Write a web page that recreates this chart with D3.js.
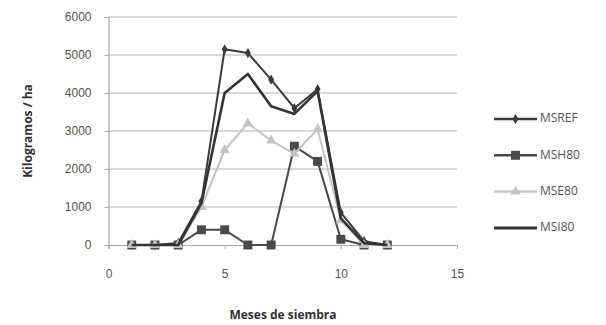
<!DOCTYPE html>
<html>
<head>
<meta charset="utf-8">
<script src="https://cdn.jsdelivr.net/npm/d3@7"></script>
<style>
  body { margin: 0; background: #fff; }
  svg { display: block; font-family: "Open Sans", "Liberation Sans", sans-serif; }
</style>
</head>
<body>
<svg id="chart" width="606" height="325"></svg>
<script>
// data
const months = [1, 2, 3, 4, 5, 6, 7, 8, 9, 10, 11, 12];
const msref = [0, 0, 50, 1150, 5150, 5050, 4350, 3600, 4100, 850, 100, 0];
const msh80 = [0, 0, 0, 400, 400, 0, 0, 2600, 2200, 150, 0, 0];
const mse80 = [0, 0, 0, 1000, 2500, 3200, 2750, 2400, 3050, 650, 0, 0];
const msi80 = [0, 0, 0, 1100, 4000, 4500, 3650, 3450, 4050, 700, 50, 0];
const xTicks = [0, 5, 10, 15];
const yTicks = [0, 1000, 2000, 3000, 4000, 5000, 6000];

const series = [
    { name: 'MSREF', values: msref, color: '#3a3a3a', width: 2, marker: 'diamond' },
    { name: 'MSH80', values: msh80, color: '#4a4a4a', width: 2, marker: 'square' },
    { name: 'MSE80', values: mse80, color: '#c4c4c4', width: 2, marker: 'triangle' },
    { name: 'MSI80', values: msi80, color: '#333333', width: 2.6, marker: null }
];

const svg = d3.select('#chart');
const x = d3.scaleLinear().domain([0, 15]).range([108.5, 457]);
const y = d3.scaleLinear().domain([0, 6000]).range([245, 17]);

// gridlines
svg.append('g')
    .selectAll('line')
    .data(yTicks.filter(d => d > 0))
    .enter()
    .append('line')
    .attr('x1', x(0))
    .attr('x2', x(15))
    .attr('y1', d => y(d))
    .attr('y2', d => y(d))
    .attr('stroke', '#b4b4b4')
    .attr('stroke-width', 1.2);

// axes
const yAxis = svg.append('g')
    .attr('transform', `translate(${x(0)},0)`)
    .call(d3.axisLeft(y).tickValues(yTicks).tickFormat(d3.format('d')).tickSize(4).tickPadding(13));
const xAxis = svg.append('g')
    .attr('transform', `translate(0,${y(0)})`)
    .call(d3.axisBottom(x).tickValues(xTicks).tickFormat(d3.format('d')).tickSize(4).tickPadding(20));
[xAxis, yAxis].forEach(a => {
    a.select('.domain').attr('stroke', '#a8a8a8').attr('stroke-width', 1.2);
    a.selectAll('.tick line').attr('stroke', '#a8a8a8');
    a.selectAll('.tick text').attr('fill', '#555').style('font-size', '12px');
});

// lines
const line = d3.line()
    .x((d, i) => x(months[i]))
    .y(d => y(d));

const symbols = { diamond: d3.symbolDiamond, square: d3.symbolSquare, triangle: d3.symbolTriangle };
const symbolSize = { diamond: 30, square: 80, triangle: 45 };

series.forEach(s => {
    svg.append('path')
        .datum(s.values)
        .attr('fill', 'none')
        .attr('stroke', s.color)
        .attr('stroke-width', s.width)
        .attr('stroke-linejoin', 'round')
        .attr('d', line);
    if (s.marker) {
        svg.append('g')
            .selectAll('path')
            .data(s.values)
            .enter()
            .append('path')
            .attr('transform', (d, i) => `translate(${x(months[i])},${y(d)})`)
            .attr('d', d3.symbol().type(symbols[s.marker]).size(symbolSize[s.marker]))
            .attr('fill', s.color);
    }
});

// legend
const legend = svg.append('g');
series.forEach((s, i) => {
    const ly = 119 + i * 36.3;
    legend.append('line')
        .attr('x1', 494).attr('x2', 537)
        .attr('y1', ly).attr('y2', ly)
        .attr('stroke', s.color)
        .attr('stroke-width', s.width + 0.4);
    if (s.marker) {
        legend.append('path')
            .attr('transform', `translate(515.5,${ly})`)
            .attr('d', d3.symbol().type(symbols[s.marker]).size(symbolSize[s.marker]))
            .attr('fill', s.color);
    }
    legend.append('text')
        .attr('x', 540)
        .attr('y', ly)
        .attr('dominant-baseline', 'middle')
        .attr('fill', '#555')
        .style('font-size', '12px')
        .text(s.name);
});

// axis titles
svg.append('text')
    .attr('x', 283)
    .attr('y', 319)
    .attr('text-anchor', 'middle')
    .attr('fill', '#333')
    .style('font-size', '12px')
    .style('font-weight', 'bold')
    .text('Meses de siembra');
svg.append('text')
    .attr('transform', 'translate(32,131) rotate(-90)')
    .attr('text-anchor', 'middle')
    .attr('fill', '#333')
    .style('font-size', '12px')
    .style('font-weight', 'bold')
    .text('Kilogramos / ha');
</script>
</body>
</html>
